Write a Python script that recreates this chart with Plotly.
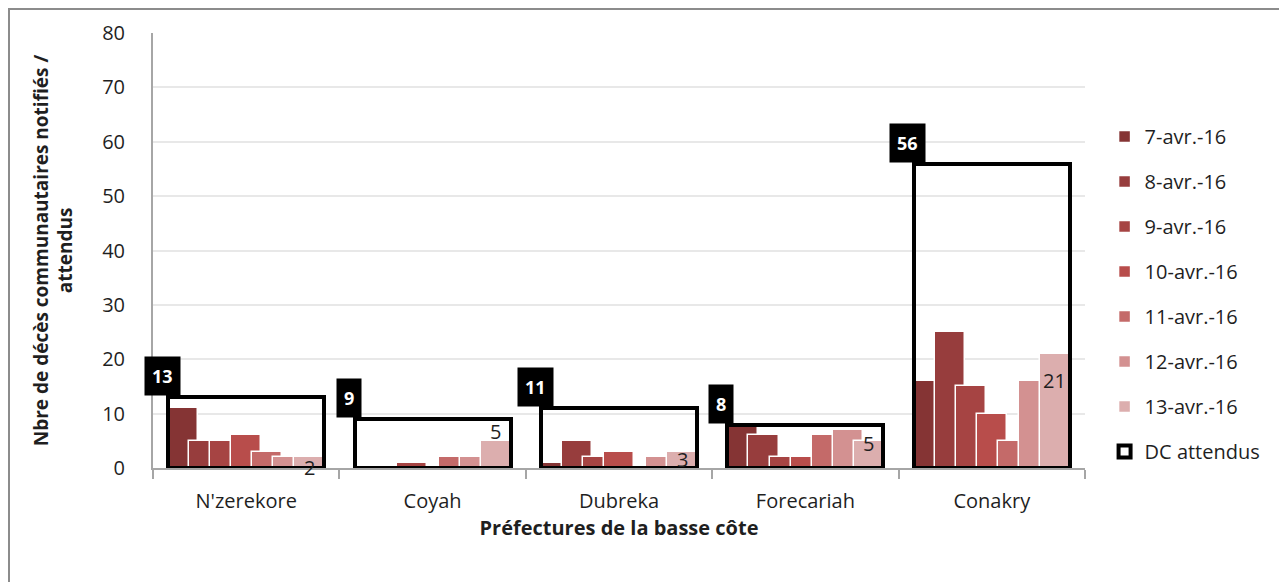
import plotly.graph_objects as go

# ---------------- data ----------------
categories = ["N'zerekore", "Coyah", "Dubreka", "Forecariah", "Conakry"]
series_names = ["7-avr.-16", "8-avr.-16", "9-avr.-16", "10-avr.-16",
                "11-avr.-16", "12-avr.-16", "13-avr.-16"]
v_07 = [11, 0, 1, 8, 16]
v_08 = [5, 0, 5, 6, 25]
v_09 = [5, 1, 2, 2, 15]
v_10 = [6, 0, 3, 2, 10]
v_11 = [3, 2, 0, 6, 5]
v_12 = [2, 2, 2, 7, 16]
v_13 = [2, 5, 3, 5, 21]
series_values = [v_07, v_08, v_09, v_10, v_11, v_12, v_13]
dc_attendus = [13, 9, 11, 8, 56]
y_ticks = [0, 10, 20, 30, 40, 50, 60, 70, 80]

# ---------------- style ----------------
colors = ['#853434', '#973D3D', '#A64443', '#B84D4B', '#C46A69', '#D39191', '#DCAEAE']
FONT = "'Open Sans', Lato, sans-serif"
TXT = "#1f1f1f"
bar_w = 0.161          # width of one bar, in category units
bar_step = 0.1127      # offset between successive series
grp_left = -0.418      # left edge of the first bar relative to category centre
grp_w = 0.836          # width of the DC attendus frame
label_dy = [10, -9, 8, 3, 27]   # pixel nudges for the last-series data labels

idx = list(range(len(categories)))
fig = go.Figure()

for j, (name, vals) in enumerate(zip(series_names, series_values)):
    centre = grp_left + j * bar_step + bar_w / 2
    fig.add_trace(go.Bar(
        x=[i + centre for i in idx], y=vals, width=bar_w, name=name,
        marker=dict(color=colors[j], line=dict(color='white', width=1.5)),
        legendgroup=name, hoverinfo='y',
    ))

fig.add_trace(go.Bar(
    x=[i + grp_left + grp_w / 2 for i in idx], y=dc_attendus, width=grp_w,
    name="DC attendus",
    marker=dict(color='rgba(0,0,0,0)', line=dict(color='black', width=4)),
    legendgroup="dc", hoverinfo='y',
))

# labels of the expected values (black boxes)
for i, v in zip(idx, dc_attendus):
    fig.add_annotation(x=i + grp_left, y=v, xref='x', yref='y', text=f"<b>{v}</b>",
                       showarrow=False, xanchor='center', yanchor='bottom', xshift=-6, yshift=1,
                       bgcolor='black', borderpad=7,
                       font=dict(family=FONT, size=18, color='white'))

# data labels of the last series
last_centre = grp_left + 6 * bar_step + bar_w / 2
for i, v, dy in zip(idx, v_13, label_dy):
    fig.add_annotation(x=i + last_centre, y=v, xref='x', yref='y', text=str(v),
                       showarrow=False, xanchor='center', yanchor='middle', yshift=-dy,
                       font=dict(family=FONT, size=20, color=TXT))

# outer chart border (left and top edges visible)
fig.add_shape(type='rect', xref='paper', yref='paper', x0=-0.1545, x1=1.3, y0=-0.4, y1=1.0552,
              line=dict(color='#8c8c8c', width=2), fillcolor='rgba(0,0,0,0)', layer='below')

fig.update_layout(
    width=1287, height=582,
    margin=dict(l=145, r=210, t=25, b=122),
    paper_bgcolor='white', plot_bgcolor='white',
    barmode='overlay', bargap=0,
    font=dict(family=FONT, size=20, color=TXT),
    showlegend=True,
    legend=dict(x=1.021, y=0.807, xanchor='left', yanchor='top',
                font=dict(family=FONT, size=20, color=TXT),
                tracegroupgap=16, itemwidth=30, bgcolor='rgba(0,0,0,0)'),
    xaxis=dict(range=[-0.5, 4.5], tickmode='array', tickvals=idx, ticktext=categories,
               ticks='', showgrid=False, zeroline=False,
               showline=True, linecolor='#a6a6a6', linewidth=2,
               tickfont=dict(family=FONT, size=20, color=TXT),
               ticklabelstandoff=14,
               minor=dict(ticks='outside', tick0=-0.5, dtick=1, ticklen=9,
                          tickcolor='#a6a6a6', tickwidth=2, showgrid=False),
               title=dict(text="<b>Préfectures de la basse côte</b>", standoff=2,
                          font=dict(family=FONT, size=20, color=TXT))),
    xaxis2=dict(overlaying='x', anchor='y', side='bottom', range=[-0.5, 4.5],
                tickmode='array', tickvals=[-0.5, 0.5, 1.5, 2.5, 3.5, 4.5],
                ticks='inside', ticklen=6, tickcolor='#a6a6a6', tickwidth=2,
                showticklabels=False, showgrid=False, zeroline=False, showline=False),
    yaxis=dict(range=[0, 80], tickmode='array', tickvals=y_ticks, ticks='',
               showgrid=True, gridcolor='#e8e8e8', gridwidth=1.5, zeroline=False,
               showline=True, linecolor='#a6a6a6', linewidth=2,
               tickfont=dict(family=FONT, size=20, color=TXT),
               ticklabelstandoff=22,
               title=dict(text="<b>Nbre de décès communautaires notifiés /<br>attendus</b>",
                          standoff=24, font=dict(family=FONT, size=19, color=TXT))),
)

fig.write_html("out.html")
